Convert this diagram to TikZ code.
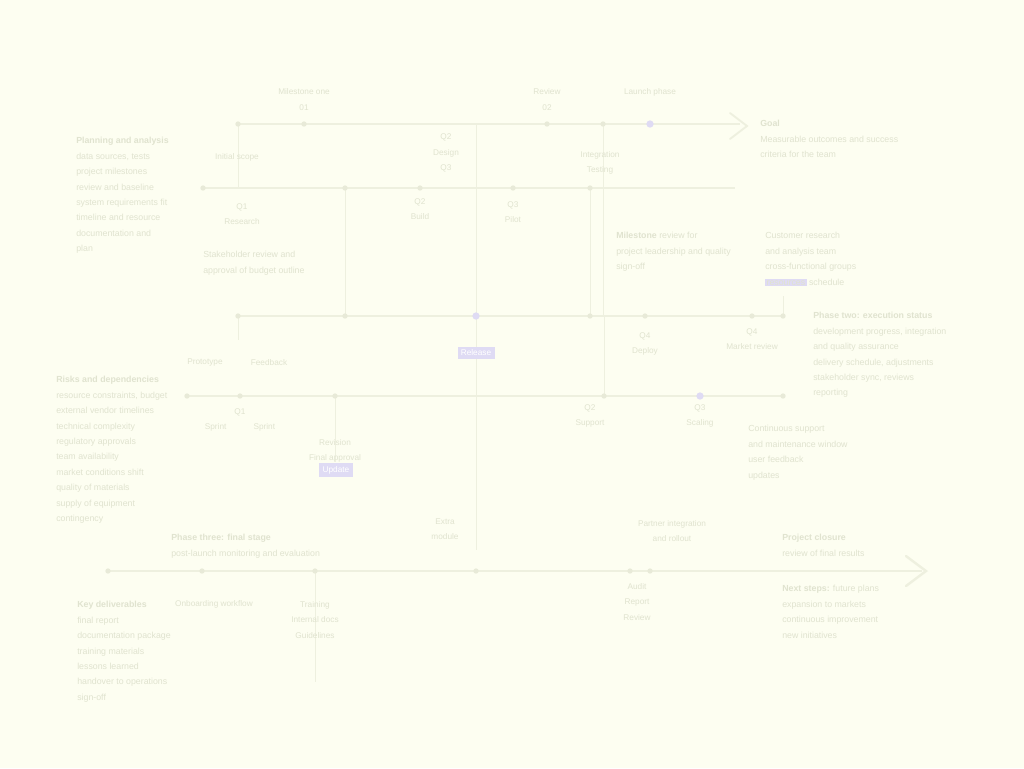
\documentclass[tikz,border=0pt]{standalone}
\usepackage{fontspec}
\setmainfont{Liberation Sans}
\begin{document}
\begin{tikzpicture}[x=0.75pt,y=-0.75pt,
  tl/.style={draw=lineC,line width=0.9pt},
  vl/.style={draw=lineC,line width=0.7pt},
  dotn/.style={circle,fill=dotC,inner sep=0pt,minimum size=4pt},
  pdot/.style={circle,fill=purpC,inner sep=0pt,minimum size=5.5pt},
  txt/.style={text=textC,font=\fontsize{6.6}{11.6}\selectfont,align=left,inner sep=0pt,anchor=north west},
  lbl/.style={text=textC,font=\fontsize{6.2}{11.6}\selectfont,align=center,inner sep=0pt},
  pbox/.style={fill=purpC,text=white,font=\fontsize{6.2}{8}\selectfont,inner sep=2.5pt,minimum width=26pt}
]
\definecolor{bgC}{HTML}{FDFEF1}
\definecolor{lineC}{HTML}{EEF0DF}
\definecolor{dotC}{HTML}{E8EAD8}
\definecolor{textC}{HTML}{E0E3CF}
\definecolor{purpC}{HTML}{DFDBF4}
\fill[bgC] (0,0) rectangle (1024,768);
\useasboundingbox (0,0) rectangle (1024,768);

% timeline coordinates
\coordinate (a0) at (238,124); \coordinate (a1) at (740,124);
\coordinate (b0) at (203,188); \coordinate (b1) at (735,188);
\coordinate (c0) at (238,316); \coordinate (c1) at (783,316);
\coordinate (d0) at (187,396); \coordinate (d1) at (783,396);
\coordinate (e0) at (108,571); \coordinate (e1) at (922,571);

% vertical connectors
\coordinate (v1t) at (476,124); \coordinate (v1b) at (476,550);
\coordinate (v2t) at (590,188); \coordinate (v2b) at (590,316);
\coordinate (v3t) at (603,124); \coordinate (v3b) at (603,316);
\coordinate (v4t) at (345,188); \coordinate (v4b) at (345,316);
\coordinate (v5t) at (238,124); \coordinate (v5b) at (238,188);
\coordinate (v6t) at (335,396); \coordinate (v6b) at (335,462);
\coordinate (v7t) at (604,316); \coordinate (v7b) at (604,396);
\coordinate (v8t) at (783,296); \coordinate (v8b) at (783,316);
\coordinate (v9t) at (315,571); \coordinate (v9b) at (315,682);
\coordinate (v10t) at (238,316); \coordinate (v10b) at (238,340);
\draw[vl] (v1t) -- (v1b);
\draw[vl] (v2t) -- (v2b);
\draw[vl] (v3t) -- (v3b);
\draw[vl] (v4t) -- (v4b);
\draw[vl] (v5t) -- (v5b);
\draw[vl] (v6t) -- (v6b);
\draw[vl] (v7t) -- (v7b);
\draw[vl] (v8t) -- (v8b);
\draw[vl] (v9t) -- (v9b);
\draw[vl] (v10t) -- (v10b);

\draw[tl] (a0) -- (a1);
\draw[tl] (b0) -- (b1);
\draw[tl] (c0) -- (c1);
\draw[tl] (d0) -- (d1);
\draw[tl] (e0) -- (e1);

% chevrons
\coordinate (ch1a) at (730,113); \coordinate (ch1b) at (747,126); \coordinate (ch1c) at (730,139);
\draw[draw=lineC,line width=1.4pt,line cap=round] (ch1a) -- (ch1b) -- (ch1c);
\coordinate (ch2a) at (906,556); \coordinate (ch2b) at (926,571); \coordinate (ch2c) at (906,586);
\draw[draw=lineC,line width=1.8pt,line cap=round] (ch2a) -- (ch2b) -- (ch2c);

% dots
\foreach \p/\n in {{304,124}/da1,{547,124}/da2,{603,124}/da3,{238,124}/da4,
                   {203,188}/db1,{345,188}/db2,{590,188}/db3,{420,188}/db4,{513,188}/db5,
                   {238,316}/dc1,{345,316}/dc2,{590,316}/dc3,{645,316}/dc4,{752,316}/dc5,{783,316}/dc6,
                   {187,396}/dd1,{240,396}/dd2,{335,396}/dd3,{604,396}/dd4,{783,396}/dd5,
                   {108,571}/de1,{202,571}/de2,{315,571}/de3,{630,571}/de4,{650,571}/de5,{476,571}/de6}
  \node[dotn] (\n) at (\p) {};
\node[pdot] (pa) at (650,124) {};
\node[pdot] (pc) at (476,316) {};
\node[pdot] (pd) at (700,396) {};

% small labels on timelines
\node[lbl] (l1) at (304,92) {Milestone one};
\node[lbl] (l2) at (547,92) {Review};
\node[lbl] (l3) at (650,92) {Launch phase};
\node[lbl] (l4) at (304,108) {01};
\node[lbl] (l5) at (547,108) {02};
\node[lbl] (l6) at (237,157) {Initial scope};
\node[lbl] (l7) at (446,153) {Q2\\Design\\Q3};
\node[lbl] (l8) at (600,163) {Integration\\Testing};
\node[lbl] (l9) at (242,214) {Q1\\Research};
\node[lbl] (l10) at (420,209) {Q2\\Build};
\node[lbl] (l11) at (513,212) {Q3\\Pilot};
\node[txt] (l12) at (203,251) {Stakeholder review and\\approval of budget outline};
\node[lbl] (l13) at (205,363) {Prototype};
\node[lbl] (l14) at (269,363) {Feedback};
\node[pbox] (pb1) at (476,353) {Release};
\node[lbl] (l15) at (645,351) {Q4\\Deploy\\};
\node[lbl] (l16) at (752,339) {Q4\\Market review};
\node[lbl] (l17) at (240,420) {Q1\\Sprint \qquad\quad Sprint};
\node[lbl] (l18) at (335,451) {Revision\\Final approval};
\node[pbox] (pb2) at (336,470) {Update};
\node[lbl] (l19) at (590,416) {Q2\\Support};
\node[lbl] (l20) at (700,416) {Q3\\Scaling};
\node[lbl] (l21) at (445,529) {Extra\\module};
\node[lbl] (l22) at (672,531) {Partner integration\\and rollout};
\node[lbl] (l23) at (214,604) {Onboarding workflow};
\node[lbl] (l24) at (315,620) {Training\\Internal docs\\Guidelines};
\node[lbl] (l25) at (637,602) {Audit\\Report\\Review};

% text blocks
\setlength{\fboxsep}{1pt}
\node[txt] (t1) at (76,137) {\textbf{Planning and analysis}\\data sources, tests\\project milestones\\review and baseline\\system requirements fit\\timeline and resource\\documentation and\\plan};
\node[txt] (t2) at (760,120) {\textbf{Goal}\\Measurable outcomes and success\\criteria for the team};
\node[txt] (t3) at (616,232) {\textbf{Milestone} review for\\project leadership and quality\\sign-off};
\node[txt] (t4) at (765,232) {Customer research\\and analysis team\\cross-functional groups\\\colorbox{purpC}{resources} schedule};
\node[txt] (t5) at (813,312) {\textbf{Phase two: execution status}\\development progress, integration\\and quality assurance\\delivery schedule, adjustments\\stakeholder sync, reviews\\reporting};
\node[txt] (t6) at (56,376) {\textbf{Risks and dependencies}\\resource constraints, budget\\external vendor timelines\\technical complexity\\regulatory approvals\\team availability\\market conditions shift\\quality of materials\\supply of equipment\\contingency};
\node[txt] (t7) at (748,425) {Continuous support\\and maintenance window\\user feedback\\updates};
\node[txt] (t8) at (171,534) {\textbf{Phase three: final stage}\\post-launch monitoring and evaluation};
\node[txt] (t9) at (77,601) {\textbf{Key deliverables}\\final report\\documentation package\\training materials\\lessons learned\\handover to operations\\sign-off};
\node[txt] (t10) at (782,534) {\textbf{Project closure}\\review of final results};
\node[txt] (t11) at (782,585) {\textbf{Next steps:} future plans\\expansion to markets\\continuous improvement\\new initiatives};
\end{tikzpicture}
\end{document}
